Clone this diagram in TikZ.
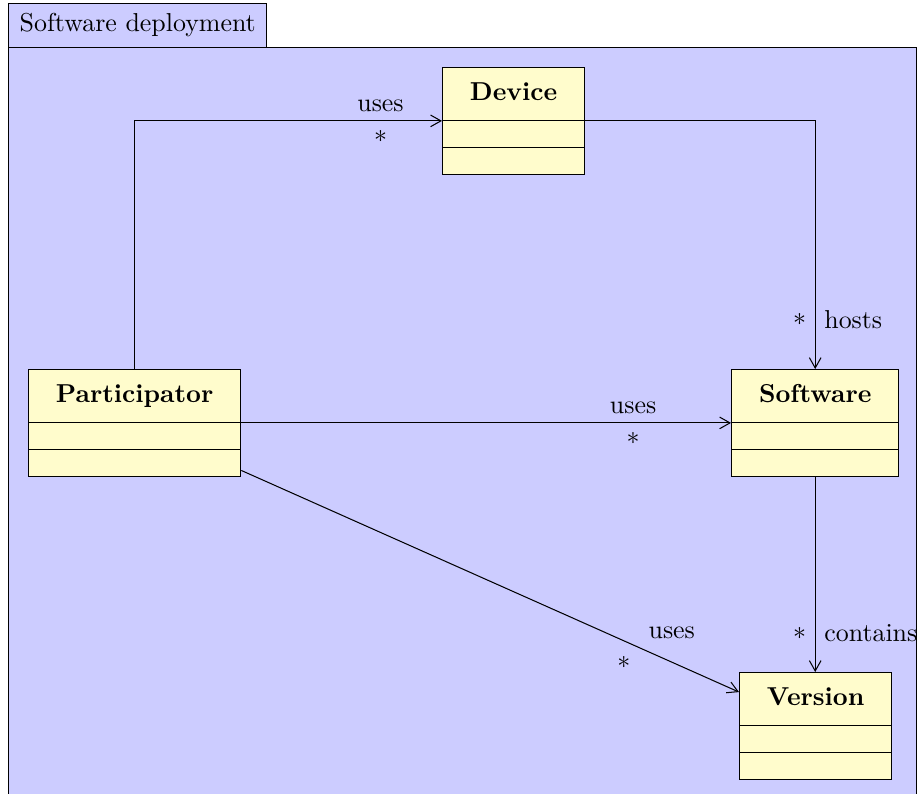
\documentclass[tikz,border=0pt]{standalone}
\usetikzlibrary{arrows.meta}
\usetikzlibrary{shapes.multipart}

\tikzset{
  umlclass/.style={draw, fill=yellow!20, rectangle split, rectangle split parts=3,
    inner xsep=10.6pt, inner ysep=0pt, anchor=north west},
  assoc/.style={-{Straight Barb[length=4pt,width=4.5pt]}},
}
\newcommand{\umlname}[1]{\rule[-7.7pt]{0pt}{20.2pt}\textbf{#1}%
  \nodepart{second}\rule{0pt}{10pt}\nodepart{third}\rule{0pt}{10pt}}

\begin{document}
\begin{tikzpicture}
			\useasboundingbox (0,0) rectangle (12.456,-10.76);
			% package frame and tab
			\draw [fill=blue!20] (0.109,-0.645) rectangle (12.436,-11.2);
			\node [draw, fill=blue!20, anchor=south west, inner xsep=4.3pt, minimum height=16.8pt] (tab) at (0.109,-0.645) {Software deployment};
			% classes
			\node [umlclass] (device) at (5.997,-0.909) {\umlname{Device}};
			\node [umlclass] (participator) at (0.380,-5.007) {\umlname{Participator}};
			\node [umlclass] (software) at (9.919,-5.007) {\umlname{Software}};
			\node [umlclass] (version) at (10.027,-9.118) {\umlname{Version}};
			% associations
			\draw [assoc] (participator.north) |- (device.text split west)
				node [pos=0.9, auto] {uses} node [pos=0.9, auto, swap] {$*$};
			\draw [assoc] (device.text split east) -| (software.north)
				node [pos=0.9, auto] {hosts} node [pos=0.9, auto, swap] {$*$};
			\draw [assoc] (participator.text split east) -- (software.text split west)
				node [pos=0.8, auto] {uses} node [pos=0.8, auto, swap] {$*$};
			\draw [assoc] (participator) -- (version)
				node [pos=0.8, auto] {uses} node [pos=0.8, auto, swap] {$*$};
			\draw [assoc] (software.south) -- (software.south |- version.north)
				node [pos=0.8, auto] {contains} node [pos=0.8, auto, swap] {$*$};
\end{tikzpicture}
\end{document}
